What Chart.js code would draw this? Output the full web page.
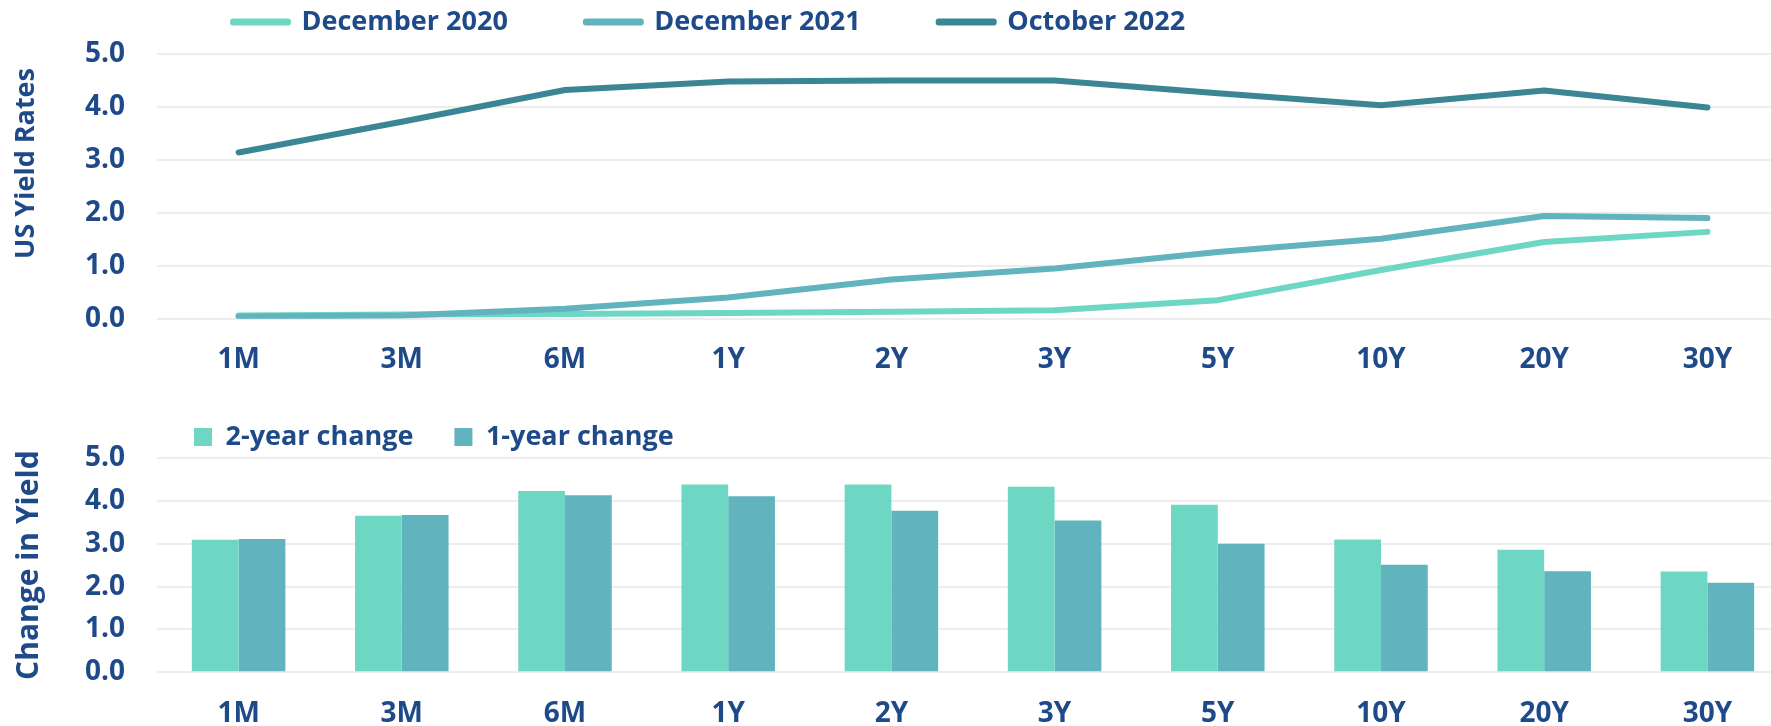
<!DOCTYPE html>
<html>
<head>
<meta charset="utf-8">
<script src="https://cdn.jsdelivr.net/npm/chart.js@4.4.1/dist/chart.umd.min.js"></script>
<style>
  html, body { margin:0; padding:0; overflow:hidden; background:#ffffff; width:1771px; height:726px; }
  #c1 { position:absolute; left:0; top:0; }
  #c2 { position:absolute; left:0; top:380px; }
</style>
</head>
<body>
<canvas id="c1" width="1789" height="380"></canvas>
<canvas id="c2" width="1789" height="346"></canvas>
<script>
// ---- data ----
const categories = ['1M', '3M', '6M', '1Y', '2Y', '3Y', '5Y', '10Y', '20Y', '30Y'];
const dec2020 = [0.06, 0.08, 0.09, 0.11, 0.13, 0.16, 0.35, 0.92, 1.45, 1.64];
const dec2021 = [0.04, 0.06, 0.19, 0.40, 0.74, 0.95, 1.26, 1.51, 1.94, 1.90];
const oct2022 = [3.14, 3.72, 4.32, 4.48, 4.50, 4.50, 4.26, 4.03, 4.31, 3.99];
const change2y = [3.09, 3.65, 4.23, 4.38, 4.38, 4.33, 3.91, 3.10, 2.86, 2.35];
const change1y = [3.11, 3.67, 4.13, 4.11, 3.77, 3.54, 3.00, 2.51, 2.36, 2.09];
const yTickValues = [0, 1, 2, 3, 4, 5];
const lineSeriesNames = ['December 2020', 'December 2021', 'October 2022'];
const barSeriesNames = ['2-year change', '1-year change'];
const topAxisTitle = 'US Yield Rates  ';
const bottomAxisTitle = 'Change in Yield';

// ---- styles ----
const TEXT = '#1F4A8A';
const GRID = '#EDEDED';
const C_MINT = '#6ED7C3';
const C_TEAL = '#61B3BE';
const C_DARK = '#3A8694';
const FAMILY = "'Open Sans', 'DejaVu Sans', sans-serif";
const FONT = { family: FAMILY, weight: 'bold', size: 27 };
const TICKFONT = { family: FAMILY, weight: 'bold', size: 28 };

Chart.defaults.font.family = FAMILY;
Chart.defaults.font.weight = 'bold';
Chart.defaults.font.size = 27;
Chart.defaults.color = TEXT;

function legendPlacer(boxLeft, textCenterY) {
  return {
    id: 'legendPlacer',
    afterLayout(chart) {
      const lg = chart.legend;
      if (!lg) return;
      const p = lg.options.labels.padding;
      const fs = lg.options.labels.font.size || 27;
      lg.left = boxLeft - p;
      lg.right = lg.left + 3000;
      lg.top = textCenterY - fs / 2 - p;
      lg.bottom = textCenterY + fs;
    }
  };
}

function yScale(titleText, titleFont, titlePad, align) {
  return {
    min: 0, max: 5,
    afterBuildTicks: s => { s.ticks = yTickValues.map(v => ({ value: v })); },
    afterFit: s => { s.width = 157; },
    grid: { color: GRID, lineWidth: 2, drawTicks: false },
    border: { display: false },
    ticks: { padding: 32, color: TEXT, font: TICKFONT, callback: v => Number(v).toFixed(1) },
    title: { display: true, text: titleText, color: TEXT, font: titleFont, padding: { top: titlePad, bottom: 0 }, align: align }
  };
}

function xScale(height, pad) {
  return {
    offset: true,
    afterFit: s => { s.height = height; },
    grid: { display: false, drawTicks: false },
    border: { display: false },
    ticks: { padding: pad, color: TEXT, font: TICKFONT, maxRotation: 0, autoSkip: false }
  };
}

// ---- top: line chart ----
const lineColors = [C_MINT, C_TEAL, C_DARK];
const lineData = [dec2020, dec2021, oct2022];
new Chart(document.getElementById('c1'), {
  type: 'line',
  data: {
    labels: categories,
    datasets: lineData.map((d, i) => ({
      label: lineSeriesNames[i],
      data: d,
      borderColor: lineColors[i],
      backgroundColor: lineColors[i],
      borderWidth: 6,
      borderCapStyle: 'round',
      borderJoinStyle: 'round',
      pointRadius: 0,
      tension: 0,
      fill: false,
      order: 3 - i
    }))
  },
  options: {
    responsive: false,
    devicePixelRatio: 1,
    animation: false,
    layout: { padding: 0 },
    plugins: {
      tooltip: { enabled: false },
      legend: {
        position: 'top',
        align: 'start',
        maxHeight: 54,
        labels: {
          boxWidth: 55, boxHeight: 1, padding: 78, color: TEXT, font: FONT,
          sort: (a, b) => a.datasetIndex - b.datasetIndex
        }
      }
    },
    scales: {
      x: xScale(61.3, 25),
      y: yScale(topAxisTitle, FONT, 10, 'end')
    }
  },
  plugins: [legendPlacer(233, 22)]
});

// ---- bottom: bar chart ----
const barColors = [C_MINT, C_TEAL];
const barData = [change2y, change1y];
new Chart(document.getElementById('c2'), {
  type: 'bar',
  data: {
    labels: categories,
    datasets: barData.map((d, i) => ({
      label: barSeriesNames[i],
      data: d,
      backgroundColor: barColors[i],
      borderWidth: 0,
      barPercentage: 1.0,
      categoryPercentage: 0.573
    }))
  },
  options: {
    responsive: false,
    devicePixelRatio: 1,
    animation: false,
    layout: { padding: 0 },
    plugins: {
      tooltip: { enabled: false },
      legend: {
        position: 'top',
        align: 'start',
        maxHeight: 89.3,
        labels: { boxWidth: 18, boxHeight: 18, padding: 41, color: TEXT, font: FONT }
      }
    },
    scales: {
      x: xScale(53.7, 24.5),
      y: yScale(bottomAxisTitle, { family: FAMILY, weight: 'bold', size: 30 }, 11, 'center')
    }
  },
  plugins: [legendPlacer(194, 57)]
});
</script>
</body>
</html>
